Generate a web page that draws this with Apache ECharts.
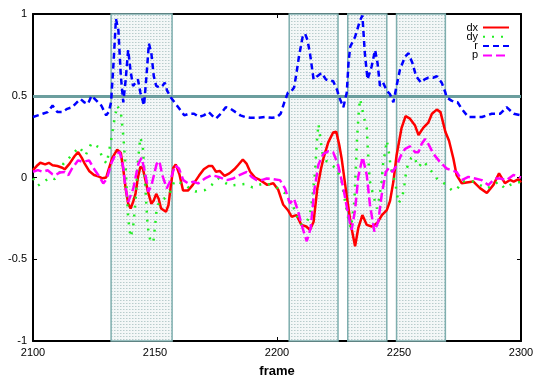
<!DOCTYPE html>
<html><head><meta charset="utf-8">
<script src="https://cdn.jsdelivr.net/npm/echarts@6/dist/echarts.min.js"></script>
<style>html,body{margin:0;padding:0;background:#fff}#c{width:539px;height:383px}</style>
</head><body><div id="c"></div>
<script>
const xTicks = [2100, 2150, 2200, 2250, 2300];
const yTicks = [-1, -0.5, 0, 0.5, 1];
const bands = [[2132, 2157], [2205, 2225], [2229, 2245], [2249, 2269]];
const threshold = 0.5;

const dx = [[2100,0.045],[2101.5,0.07],[2103,0.09],[2105,0.08],[2106.5,0.09],[2108,0.075],[2110,0.07],[2112,0.06],[2113,0.05],[2115,0.085],[2117,0.13],[2118.5,0.155],[2120,0.12],[2121,0.09],[2123,0.04],[2125,0.015],[2127,0.005],[2128.5,-0.005],[2130,0.0],[2131,0.05],[2132.5,0.12],[2134.5,0.17],[2136,0.15],[2137,0.05],[2138,-0.07],[2139,-0.16],[2140,-0.19],[2141,-0.15],[2142,-0.10],[2143,0.0],[2144,0.065],[2145,0.055],[2146,-0.01],[2147,-0.08],[2148.5,-0.16],[2149.5,-0.14],[2150.5,-0.10],[2151.5,-0.13],[2152.5,-0.19],[2154.5,-0.21],[2155.5,-0.17],[2156.5,-0.05],[2157.5,0.06],[2158.5,0.08],[2160,0.02],[2161.5,-0.08],[2163.5,-0.08],[2165.5,-0.045],[2168,0.01],[2170,0.05],[2172,0.07],[2173.5,0.07],[2175,0.035],[2176.5,0.04],[2178.5,0.01],[2180.5,0.025],[2182.5,0.05],[2184,0.075],[2186,0.11],[2187.5,0.085],[2189,0.035],[2191,0.0],[2193,-0.015],[2196,-0.045],[2198.5,-0.035],[2200.5,-0.075],[2202.5,-0.165],[2204.5,-0.2],[2206,-0.24],[2208,-0.23],[2210,-0.29],[2212,-0.30],[2213.5,-0.32],[2215,-0.27],[2216.5,-0.07],[2218,0.05],[2219,0.115],[2221,0.215],[2223,0.275],[2224.3,0.28],[2225.5,0.2],[2226.5,0.115],[2228.5,-0.105],[2230.3,-0.29],[2232,-0.42],[2233.3,-0.31],[2235,-0.23],[2236.8,-0.29],[2238.8,-0.30],[2241,-0.28],[2243,-0.23],[2245,-0.2],[2246.3,-0.145],[2247.7,-0.025],[2249,0.135],[2251,0.30],[2252.7,0.375],[2254.5,0.36],[2256.5,0.32],[2258,0.26],[2260,0.305],[2262,0.335],[2263.5,0.39],[2265.5,0.415],[2267,0.40],[2269,0.28],[2270.5,0.225],[2272.3,0.115],[2273.6,0.015],[2275.7,-0.035],[2277.7,-0.03],[2280.5,-0.025],[2283.2,-0.065],[2286,-0.095],[2288.7,-0.045],[2291,0.025],[2293.4,-0.035],[2295.5,-0.015],[2297,-0.025],[2299,-0.01],[2300,-0.03]];

const dy = [[2100,-0.005],[2102,-0.05],[2104,-0.03],[2107,0.0],[2109,-0.01],[2111,0.034],[2112.5,0.085],[2114.5,0.115],[2117,0.155],[2119,0.186],[2121.5,0.135],[2124,0.21],[2126.8,0.186],[2128.6,0.115],[2130.2,0.085],[2132,0.226],[2133.2,0.34],[2134.5,0.44],[2136,0.40],[2137,0.256],[2138,0.05],[2139,-0.25],[2140,-0.365],[2141,-0.31],[2142,-0.15],[2143,0.10],[2144,0.245],[2145,0.19],[2146,-0.05],[2147,-0.3],[2148,-0.38],[2149.3,-0.40],[2150,-0.3],[2150.7,-0.19],[2152,-0.14],[2154,-0.127],[2156,-0.097],[2158,-0.02],[2160,-0.03],[2162.3,-0.045],[2164.5,-0.07],[2166.5,-0.085],[2170.5,-0.077],[2173.2,-0.046],[2176,-0.006],[2178,-0.026],[2180.7,-0.05],[2183.5,-0.045],[2186.9,-0.04],[2190,-0.06],[2192.4,-0.046],[2195,-0.036],[2197.8,-0.046],[2200.5,-0.066],[2203.3,-0.097],[2204.6,-0.137],[2206.7,-0.18],[2208.3,-0.24],[2210.1,-0.29],[2211.9,-0.28],[2213.5,-0.23],[2214.6,-0.107],[2215.6,0.034],[2216.3,0.216],[2217,0.327],[2217.7,0.25],[2218.5,0.155],[2220.3,0.10],[2222.4,0.075],[2224.5,0.055],[2226.5,-0.026],[2227.9,-0.147],[2229.2,-0.25],[2230.3,-0.31],[2231.7,-0.147],[2232.3,0.055],[2232.8,0.236],[2233.4,0.378],[2234,0.48],[2234.7,0.44],[2235.4,0.38],[2236.8,0.30],[2237.2,0.18],[2237.6,0.075],[2238,-0.02],[2239.3,-0.10],[2241,-0.19],[2242,-0.12],[2242.9,-0.02],[2243.4,0.075],[2244.3,0.155],[2245,0.226],[2245.6,0.18],[2246.7,0.055],[2248.4,-0.026],[2249.8,-0.158],[2251.4,-0.117],[2252.2,-0.046],[2253.1,0.055],[2255,0.12],[2256,0.13],[2258,0.064],[2260,0.10],[2262,0.064],[2264,0.024],[2266,-0.016],[2269,-0.04],[2271.6,-0.077],[2273.6,-0.077],[2275.7,-0.026],[2278.4,-0.02],[2280.5,-0.026],[2283.2,-0.046],[2286,-0.067],[2288.7,-0.046],[2290.7,-0.026],[2293.4,-0.067],[2295.5,-0.046],[2297.5,-0.036],[2300,-0.026]];

const r = [[2100,0.37],[2102,0.38],[2104,0.39],[2106,0.40],[2108,0.44],[2110,0.40],[2112,0.40],[2114,0.42],[2116,0.43],[2118,0.46],[2119.5,0.48],[2121,0.46],[2122.5,0.45],[2124,0.50],[2126,0.47],[2128,0.44],[2130,0.38],[2131,0.40],[2132,0.46],[2133,0.70],[2134,0.97],[2135,0.90],[2136,0.62],[2137,0.46],[2138,0.60],[2139,0.78],[2140,0.65],[2141,0.56],[2142,0.58],[2143,0.60],[2144,0.52],[2145.5,0.44],[2146.5,0.62],[2147.5,0.82],[2148.5,0.76],[2149.5,0.62],[2150.5,0.56],[2152,0.55],[2153,0.56],[2154,0.58],[2155,0.53],[2156.5,0.49],[2158,0.46],[2160,0.42],[2162,0.38],[2164,0.39],[2166,0.39],[2168,0.37],[2170,0.38],[2172,0.40],[2174,0.37],[2175,0.36],[2177,0.39],[2179,0.43],[2181,0.42],[2183,0.40],[2185,0.38],[2187,0.37],[2189,0.365],[2192,0.365],[2195,0.37],[2198,0.365],[2200,0.37],[2201.5,0.39],[2203,0.46],[2204.5,0.52],[2206,0.53],[2207,0.55],[2208,0.64],[2209,0.74],[2210.5,0.86],[2211.5,0.88],[2212.5,0.84],[2213.5,0.76],[2215,0.60],[2216.5,0.62],[2218.3,0.64],[2220,0.60],[2221.5,0.59],[2223,0.59],[2224.5,0.54],[2225.8,0.48],[2227.2,0.43],[2228.6,0.52],[2229.3,0.70],[2230,0.80],[2232,0.86],[2234,0.96],[2235,0.99],[2236,0.76],[2237.1,0.60],[2238.8,0.68],[2240.2,0.78],[2241.2,0.70],[2242.2,0.56],[2243.5,0.58],[2245,0.53],[2246.3,0.51],[2247.7,0.46],[2249,0.56],[2250.4,0.66],[2252.5,0.74],[2253.9,0.76],[2255.5,0.70],[2257,0.62],[2259,0.58],[2260.5,0.60],[2262,0.61],[2264,0.61],[2265.5,0.62],[2267.5,0.58],[2269,0.52],[2269.5,0.49],[2271.5,0.47],[2273,0.46],[2274,0.46],[2275.7,0.42],[2278.4,0.37],[2281.2,0.37],[2284,0.37],[2288,0.39],[2291.5,0.39],[2294.1,0.43],[2297,0.39],[2300,0.38]];

const p = [[2100,0.035],[2102,0.045],[2104,0.035],[2106,0.044],[2108,0.02],[2109,0.014],[2111,0.03],[2113,0.034],[2114.5,0.014],[2116,0.055],[2118.5,0.105],[2120.5,0.095],[2123,0.105],[2124.7,0.06],[2126.8,0.014],[2128.8,-0.036],[2130.3,-0.006],[2132.3,0.095],[2134,0.145],[2135.6,0.155],[2137,0.06],[2137.7,-0.04],[2139,-0.15],[2139.8,-0.16],[2141.1,-0.067],[2143.2,0.085],[2144.5,0.12],[2145.9,0.034],[2147.3,-0.087],[2148.6,-0.046],[2150.7,0.085],[2151.8,0.10],[2153,0.014],[2154.8,-0.067],[2156.1,-0.026],[2158.2,0.075],[2159.8,0.055],[2161.6,-0.016],[2163.6,-0.036],[2165.7,-0.026],[2167.7,-0.036],[2170.5,-0.006],[2173.2,0.014],[2176,0.004],[2179.4,-0.016],[2182.1,-0.006],[2184.8,0.016],[2187.6,0.034],[2189.6,0.004],[2191.7,-0.016],[2193.7,-0.016],[2195.8,-0.006],[2198.5,-0.01],[2201.2,-0.016],[2203.3,-0.067],[2205.3,-0.158],[2207,-0.13],[2208.7,-0.21],[2210.5,-0.31],[2212.2,-0.39],[2213.8,-0.31],[2215.2,-0.087],[2217,0.08],[2219,0.145],[2221,0.16],[2223,0.155],[2225.1,0.075],[2227.2,-0.067],[2229.2,-0.228],[2230.6,-0.32],[2232,-0.198],[2233.3,0.004],[2235.1,0.125],[2236.8,0.014],[2238.1,-0.168],[2239.9,-0.33],[2241.5,-0.27],[2242.9,-0.107],[2244.6,0.034],[2245.9,0.06],[2247.3,0.034],[2249.1,0.075],[2250.8,0.135],[2252.5,0.175],[2254.5,0.19],[2256.6,0.155],[2258,0.155],[2259.3,0.206],[2260.7,0.236],[2262,0.206],[2264.1,0.145],[2266.8,0.095],[2269.5,0.055],[2271.5,0.044],[2273.6,0.034],[2275.7,-0.016],[2278.4,0.004],[2281.2,-0.006],[2283.9,-0.016],[2286.6,-0.046],[2289.3,-0.006],[2291.5,-0.006],[2294.1,-0.016],[2296.9,0.016],[2299,0.004],[2300,0.0]];

const FONT = '"Liberation Sans", Arial, sans-serif';
const pat = document.createElement('canvas');
pat.width = 3; pat.height = 3;
(function(){const g = pat.getContext('2d'); g.fillStyle = '#f3f7f7'; g.fillRect(0,0,3,3); g.fillStyle = '#b8cccc'; g.fillRect(0,0,1,1); g.fillStyle='#d6e2e2'; g.fillRect(1,0,1,1);})();

const chart = echarts.init(document.getElementById('c'), null, {renderer: 'canvas'});
const axisCommon = {
  axisLine: {show: true, onZero: false, lineStyle: {color: '#000', width: 2}},
  axisTick: {show: true, inside: true, length: 4, lineStyle: {color: '#000', width: 1}},
  splitLine: {show: false}
};
chart.setOption({
  animation: false,
  backgroundColor: '#fff',
  grid: {left: 33, right: 18, top: 14, bottom: 39},
  xAxis: [
    Object.assign({type: 'value', min: xTicks[0], max: xTicks[xTicks.length-1], interval: 50, position: 'bottom',
      name: 'frame', nameLocation: 'middle', nameGap: 24,
      nameTextStyle: {fontFamily: FONT, fontSize: 13, fontWeight: 'bold', color: '#000'},
      axisLabel: {fontFamily: FONT, fontSize: 11, color: '#000', margin: 6, formatter: v => String(v)}}, axisCommon),
    Object.assign({type: 'value', min: xTicks[0], max: xTicks[xTicks.length-1], interval: 50, position: 'top',
      axisLabel: {show: false}}, axisCommon)
  ],
  yAxis: [
    Object.assign({type: 'value', min: yTicks[0], max: yTicks[yTicks.length-1], interval: 0.5, position: 'left',
      axisLabel: {fontFamily: FONT, fontSize: 11, color: '#000', margin: 6, formatter: v => String(v)}}, axisCommon),
    Object.assign({type: 'value', min: yTicks[0], max: yTicks[yTicks.length-1], interval: 0.5, position: 'right',
      axisLabel: {show: false}}, axisCommon)
  ],
  legend: {
    data: ['dx', 'dy', 'r', 'p'], orient: 'vertical', align: 'right', right: 24, top: 17,
    itemWidth: 26, itemHeight: 8, itemGap: -1.7,
    itemStyle: {opacity: 0},
    textStyle: {fontFamily: FONT, fontSize: 11, color: '#000'}
  },
  series: [
    {name: 'bands', type: 'line', data: [], silent: true, z: 1,
      markArea: {silent: true, itemStyle: {color: {image: pat, repeat: 'repeat'}, borderColor: '#7eaeae', borderWidth: 1.5},
        data: bands.map(b => [{xAxis: b[0]}, {xAxis: b[1]}])},
      markLine: {silent: true, symbol: 'none', label: {show: false},
        lineStyle: {color: '#6b9e9e', width: 3, type: 'solid'}, data: [{yAxis: threshold}]}},
    {name: 'dx', type: 'line', data: dx, symbol: 'none', z: 3,
      lineStyle: {color: '#ff0000', width: 2.5, type: 'solid'}, itemStyle: {color: '#ff0000'}},
    {name: 'dy', type: 'line', data: dy, symbol: 'none', z: 4,
      lineStyle: {color: '#22ee22', width: 2.5, type: [2, 7]}, itemStyle: {color: '#22ee22'}},
    {name: 'r', type: 'line', data: r, symbol: 'none', z: 5,
      lineStyle: {color: '#0000ff', width: 2.5, type: [6, 4]}, itemStyle: {color: '#0000ff'}},
    {name: 'p', type: 'line', data: p, symbol: 'none', z: 6,
      lineStyle: {color: '#ff00ff', width: 2.5, type: [9, 4]}, itemStyle: {color: '#ff00ff'}}
  ]
});
</script></body></html>
